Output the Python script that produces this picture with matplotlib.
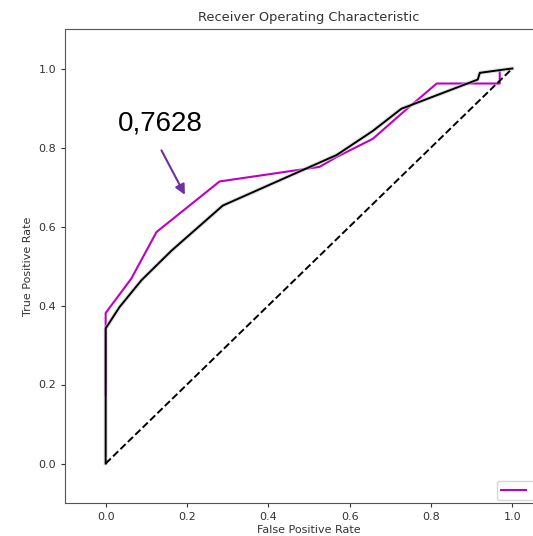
import matplotlib
matplotlib.use("Agg")
import matplotlib.pyplot as plt

# Data
fpr_model = [0.0, 0.0, 0.034, 0.088, 0.162, 0.288, 0.568, 0.657, 0.727, 0.915, 0.920, 0.977, 1.0]
tpr_model = [0.0, 0.342, 0.396, 0.464, 0.539, 0.653, 0.781, 0.842, 0.898, 0.972, 0.989, 0.997, 1.0]

fpr_other = [0.0, 0.0, 0.063, 0.125, 0.280, 0.526, 0.568, 0.657, 0.740, 0.814, 0.969, 0.969]
tpr_other = [0.174, 0.381, 0.468, 0.586, 0.714, 0.751, 0.776, 0.822, 0.897, 0.962, 0.962, 0.993]

diag = [0.0, 1.0]
auc_text = "0,7628"
legend_label = " "

fig = plt.figure(figsize=(5.33, 5.36), dpi=100)
ax = fig.add_axes([65/533, 33/536, 488/533, 474/536])

ax.plot(fpr_other, tpr_other, color="m", lw=1.5, label=legend_label)
ax.plot(fpr_model, tpr_model, color="#cccccc", lw=3.0, alpha=0.6)
ax.plot(fpr_model, tpr_model, color="black", lw=1.4)
ax.plot(diag, diag, color="black", lw=1.4, ls="--")

ax.set_xlim(-0.1, 1.1)
ax.set_ylim(-0.1, 1.1)
ax.set_xticks([0.0, 0.2, 0.4, 0.6, 0.8, 1.0])
ax.set_yticks([0.0, 0.2, 0.4, 0.6, 0.8, 1.0])
ax.tick_params(labelsize=8, colors="#333333", length=3)
for s in ax.spines.values():
    s.set_color("#555555")

ax.set_title("Receiver Operating Characteristic", fontsize=9.4, color="#333333", pad=6)
ax.set_xlabel("False Positive Rate", fontsize=8, color="#333333", labelpad=2)
ax.set_ylabel("True Positive Rate", fontsize=8, color="#333333", labelpad=4)

ax.legend(loc="lower left", bbox_to_anchor=(497/533, 36/536), bbox_transform=fig.transFigure,
          borderaxespad=0, fontsize=8, handlelength=2.2)

ax.text(0.03, 0.842, auc_text, fontsize=20, family="Liberation Sans", color="black", va="baseline")
ax.annotate("", xy=(0.198, 0.674), xytext=(0.134, 0.799),
            arrowprops=dict(arrowstyle="-|>", color="#7030A0", lw=1.5, mutation_scale=15))

fig.savefig("out.png", dpi=100)
